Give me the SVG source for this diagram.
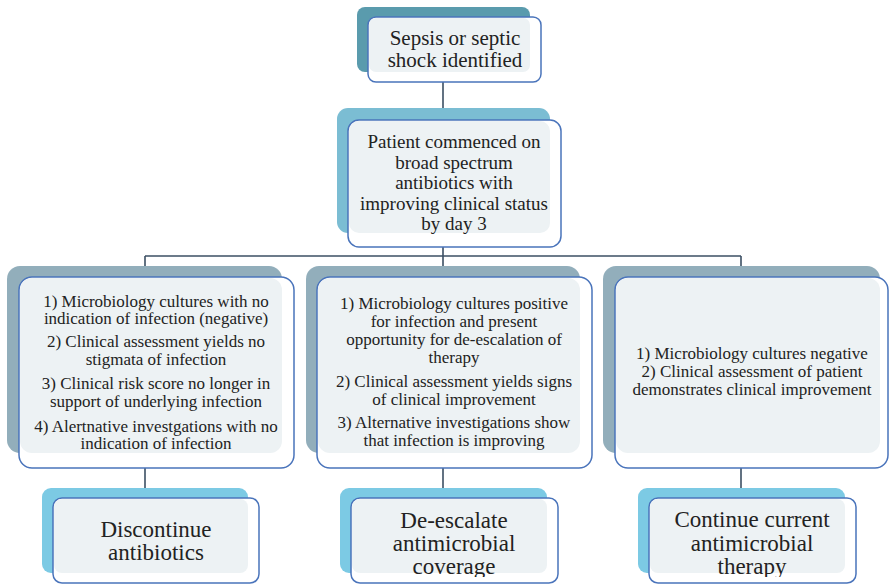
<svg xmlns="http://www.w3.org/2000/svg" width="889" height="584" viewBox="0 0 889 584">
<defs>
<style>
.front{fill:#ffffff;stroke:#4a74bb;stroke-width:1.5}
.light{fill:#edf2f4}
.conn{stroke:#3b4f63;stroke-width:1.6;fill:none}
.tx{font-family:'Liberation Serif','Times New Roman',serif;fill:#222;text-anchor:middle}
.t1{font-size:21px}
.t2{font-size:19px}
.t3{font-size:17px}
.t4{font-size:23px}
</style>
<clipPath id="clipBottom"><rect x="0" y="0" width="889" height="577"/></clipPath>
</defs>
<rect width="889" height="584" fill="#ffffff"/>
<g id="connectors">
<line class="conn" x1="443" y1="80" x2="443" y2="122"/>
<line class="conn" x1="443" y1="245" x2="443" y2="256"/>
<line class="conn" x1="145" y1="256" x2="741" y2="256"/>
<line class="conn" x1="145" y1="256" x2="145" y2="279"/>
<line class="conn" x1="443" y1="256" x2="443" y2="279"/>
<line class="conn" x1="741" y1="256" x2="741" y2="279"/>
<line class="conn" x1="145" y1="466" x2="145" y2="500"/>
<line class="conn" x1="443" y1="466" x2="443" y2="500"/>
<line class="conn" x1="741" y1="466" x2="741" y2="500"/>
</g>
<g id="n1">
<rect x="357" y="7" width="173" height="65" rx="8" fill="#5a9bad"/>
<rect class="front" x="368" y="17" width="173" height="65" rx="8"/>
<rect class="light" x="369" y="18" width="161" height="54" rx="7"/>
<text class="tx t1"><tspan x="455" y="45">Sepsis or septic</tspan><tspan x="455" y="67">shock identified</tspan></text>
</g>
<g id="n2">
<rect x="337" y="108" width="213" height="125" rx="11" fill="#7bbdd3"/>
<rect class="front" x="348" y="120" width="213" height="127" rx="11"/>
<rect class="light" x="349" y="121" width="201" height="112" rx="10"/>
<text class="tx t2"><tspan x="454" y="148">Patient commenced on</tspan><tspan x="454" y="168.5">broad spectrum</tspan><tspan x="454" y="189">antibiotics with</tspan><tspan x="454" y="209.5">improving clinical status</tspan><tspan x="454" y="230">by day 3</tspan></text>
</g>
<g id="n3">
<rect x="7" y="266" width="275" height="187" rx="13" fill="#92aebb"/>
<rect class="front" x="19" y="277" width="275" height="191" rx="13"/>
<rect class="light" x="20" y="278" width="262" height="175" rx="12"/>
<text class="tx t3"><tspan x="156" y="306.5">1) Microbiology cultures with no</tspan><tspan x="156" y="324">indication of infection (negative)</tspan><tspan x="156" y="347">2) Clinical assessment yields no</tspan><tspan x="156" y="365">stigmata of infection</tspan><tspan x="156" y="389">3) Clinical risk score no longer in</tspan><tspan x="156" y="407">support of underlying infection</tspan><tspan x="156" y="431.5">4) Alertnative investgations with no</tspan><tspan x="156" y="449">indication of infection</tspan></text>
</g>
<g id="n4">
<rect x="306" y="266" width="274" height="187" rx="13" fill="#92aebb"/>
<rect class="front" x="317" y="277" width="275" height="191" rx="13"/>
<rect class="light" x="318" y="278" width="262" height="175" rx="12"/>
<text class="tx t3"><tspan x="454" y="309">1) Microbiology cultures positive</tspan><tspan x="454" y="327">for infection and present</tspan><tspan x="454" y="345">opportunity for de-escalation of</tspan><tspan x="454" y="362.5">therapy</tspan><tspan x="454" y="387">2) Clinical assessment yields signs</tspan><tspan x="454" y="404.5">of clinical improvement</tspan><tspan x="454" y="428">3) Alternative investigations show</tspan><tspan x="454" y="445.5">that infection is improving</tspan></text>
</g>
<g id="n5">
<rect x="603" y="266" width="277" height="187" rx="13" fill="#92aebb"/>
<rect class="front" x="615" y="277" width="273" height="191" rx="13"/>
<rect class="light" x="616" y="278" width="264" height="175" rx="12"/>
<text class="tx t3"><tspan x="752" y="359">1) Microbiology cultures negative</tspan><tspan x="752" y="377">2) Clinical assessment of patient</tspan><tspan x="752" y="395">demonstrates clinical improvement</tspan></text>
</g>
<g id="n6">
<rect x="42" y="488" width="206" height="85" rx="9" fill="#7ccae4"/>
<rect class="front" x="53" y="498" width="206" height="85" rx="9"/>
<rect class="light" x="54" y="499" width="194" height="74" rx="8"/>
<text class="tx t4"><tspan x="156" y="537">Discontinue</tspan><tspan x="156" y="560">antibiotics</tspan></text>
</g>
<g id="n7">
<rect x="340" y="488" width="207" height="85" rx="9" fill="#7ccae4"/>
<rect class="front" x="351" y="498" width="207" height="85" rx="9"/>
<rect class="light" x="352" y="499" width="195" height="74" rx="8"/>
<text class="tx t4" clip-path="url(#clipBottom)"><tspan x="454" y="528">De-escalate</tspan><tspan x="454" y="551">antimicrobial</tspan><tspan x="454" y="574">coverage</tspan></text>
</g>
<g id="n8">
<rect x="638" y="488" width="207" height="85" rx="9" fill="#7ccae4"/>
<rect class="front" x="649" y="498" width="207" height="85" rx="9"/>
<rect class="light" x="650" y="499" width="195" height="74" rx="8"/>
<text class="tx t4" clip-path="url(#clipBottom)"><tspan x="752" y="527">Continue current</tspan><tspan x="752" y="551">antimicrobial</tspan><tspan x="752" y="574">therapy</tspan></text>
</g>
</svg>
